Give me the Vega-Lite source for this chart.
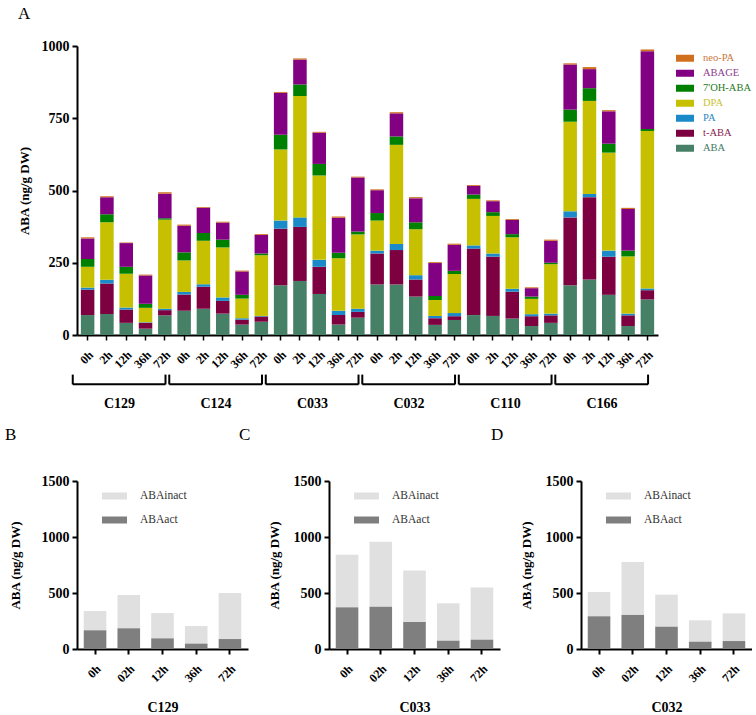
{
  "$schema": "https://vega.github.io/schema/vega-lite/v6.json",
  "background": "white",
  "padding": {"left": 5, "top": 5, "right": 0, "bottom": 0},
  "spacing": 14,
  "config": {
    "view": {"stroke": null},
    "font": "Liberation Serif",
    "axis": {
      "grid": false,
      "domainColor": "black",
      "domainWidth": 2,
      "tickColor": "black",
      "tickWidth": 2,
      "tickSize": 5,
      "labelFont": "Liberation Serif",
      "labelFontWeight": "bold",
      "labelColor": "black",
      "titleFont": "Liberation Serif",
      "titleFontWeight": "bold",
      "titleColor": "black"
    },
    "title": {"font": "Liberation Serif", "fontWeight": "normal", "fontSize": 17, "color": "black", "anchor": "start", "frame": "bounds"}
  },
  "datasets": {
    "A": [
      {"g": "C129", "t": "0h", "ABA": 69, "tABA": 88, "PA": 7, "DPA": 72, "OH": 27, "ABAGE": 71, "neoPA": 4},
      {"g": "C129", "t": "2h", "ABA": 73, "tABA": 105, "PA": 13, "DPA": 199, "OH": 28, "ABAGE": 59, "neoPA": 3},
      {"g": "C129", "t": "12h", "ABA": 42, "tABA": 46, "PA": 7, "DPA": 117, "OH": 24, "ABAGE": 82, "neoPA": 2},
      {"g": "C129", "t": "36h", "ABA": 22, "tABA": 20, "PA": 2, "DPA": 50, "OH": 14, "ABAGE": 98, "neoPA": 3},
      {"g": "C129", "t": "72h", "ABA": 68, "tABA": 18, "PA": 5, "DPA": 308, "OH": 5, "ABAGE": 85, "neoPA": 5},
      {"g": "C124", "t": "0h", "ABA": 84, "tABA": 56, "PA": 9, "DPA": 109, "OH": 28, "ABAGE": 92, "neoPA": 4},
      {"g": "C124", "t": "2h", "ABA": 91, "tABA": 76, "PA": 9, "DPA": 150, "OH": 27, "ABAGE": 87, "neoPA": 3},
      {"g": "C124", "t": "12h", "ABA": 74, "tABA": 44, "PA": 12, "DPA": 173, "OH": 27, "ABAGE": 59, "neoPA": 3},
      {"g": "C124", "t": "36h", "ABA": 36, "tABA": 17, "PA": 5, "DPA": 68, "OH": 13, "ABAGE": 81, "neoPA": 3},
      {"g": "C124", "t": "72h", "ABA": 46, "tABA": 18, "PA": 2, "DPA": 210, "OH": 6, "ABAGE": 64, "neoPA": 3},
      {"g": "C033", "t": "0h", "ABA": 172, "tABA": 196, "PA": 28, "DPA": 246, "OH": 51, "ABAGE": 145, "neoPA": 3},
      {"g": "C033", "t": "2h", "ABA": 187, "tABA": 187, "PA": 33, "DPA": 420, "OH": 40, "ABAGE": 86, "neoPA": 4},
      {"g": "C033", "t": "12h", "ABA": 142, "tABA": 94, "PA": 24, "DPA": 292, "OH": 40, "ABAGE": 108, "neoPA": 3},
      {"g": "C033", "t": "36h", "ABA": 36, "tABA": 33, "PA": 15, "DPA": 182, "OH": 19, "ABAGE": 121, "neoPA": 4},
      {"g": "C033", "t": "72h", "ABA": 60, "tABA": 20, "PA": 11, "DPA": 257, "OH": 10, "ABAGE": 187, "neoPA": 3},
      {"g": "C032", "t": "0h", "ABA": 175, "tABA": 107, "PA": 10, "DPA": 104, "OH": 26, "ABAGE": 79, "neoPA": 3},
      {"g": "C032", "t": "2h", "ABA": 175, "tABA": 119, "PA": 21, "DPA": 343, "OH": 29, "ABAGE": 80, "neoPA": 4},
      {"g": "C032", "t": "12h", "ABA": 133, "tABA": 59, "PA": 15, "DPA": 159, "OH": 24, "ABAGE": 83, "neoPA": 4},
      {"g": "C032", "t": "36h", "ABA": 35, "tABA": 23, "PA": 8, "DPA": 55, "OH": 14, "ABAGE": 114, "neoPA": 3},
      {"g": "C032", "t": "72h", "ABA": 52, "tABA": 13, "PA": 11, "DPA": 135, "OH": 11, "ABAGE": 90, "neoPA": 4},
      {"g": "C110", "t": "0h", "ABA": 69, "tABA": 230, "PA": 11, "DPA": 161, "OH": 15, "ABAGE": 30, "neoPA": 3},
      {"g": "C110", "t": "2h", "ABA": 66, "tABA": 205, "PA": 11, "DPA": 130, "OH": 13, "ABAGE": 38, "neoPA": 3},
      {"g": "C110", "t": "12h", "ABA": 57, "tABA": 93, "PA": 10, "DPA": 178, "OH": 11, "ABAGE": 49, "neoPA": 3},
      {"g": "C110", "t": "36h", "ABA": 31, "tABA": 34, "PA": 7, "DPA": 53, "OH": 8, "ABAGE": 29, "neoPA": 3},
      {"g": "C110", "t": "72h", "ABA": 42, "tABA": 26, "PA": 6, "DPA": 171, "OH": 5, "ABAGE": 76, "neoPA": 4},
      {"g": "C166", "t": "0h", "ABA": 172, "tABA": 235, "PA": 21, "DPA": 310, "OH": 42, "ABAGE": 156, "neoPA": 4},
      {"g": "C166", "t": "2h", "ABA": 192, "tABA": 285, "PA": 11, "DPA": 322, "OH": 44, "ABAGE": 66, "neoPA": 7},
      {"g": "C166", "t": "12h", "ABA": 139, "tABA": 132, "PA": 21, "DPA": 339, "OH": 31, "ABAGE": 112, "neoPA": 4},
      {"g": "C166", "t": "36h", "ABA": 31, "tABA": 37, "PA": 6, "DPA": 198, "OH": 20, "ABAGE": 144, "neoPA": 4},
      {"g": "C166", "t": "72h", "ABA": 123, "tABA": 32, "PA": 6, "DPA": 545, "OH": 7, "ABAGE": 269, "neoPA": 6}
    ],
    "groups": [
      {"g": "C129", "a": "C129 0h", "m": "C129 12h", "b": "C129 72h"},
      {"g": "C124", "a": "C124 0h", "m": "C124 12h", "b": "C124 72h"},
      {"g": "C033", "a": "C033 0h", "m": "C033 12h", "b": "C033 72h"},
      {"g": "C032", "a": "C032 0h", "m": "C032 12h", "b": "C032 72h"},
      {"g": "C110", "a": "C110 0h", "m": "C110 12h", "b": "C110 72h"},
      {"g": "C166", "a": "C166 0h", "m": "C166 12h", "b": "C166 72h"}
    ],
    "B": [
      {"t": "0h", "ABAact": 167, "ABAinact": 172},
      {"t": "02h", "ABAact": 185, "ABAinact": 297},
      {"t": "12h", "ABAact": 95, "ABAinact": 226},
      {"t": "36h", "ABAact": 48, "ABAinact": 157},
      {"t": "72h", "ABAact": 89, "ABAinact": 411}
    ],
    "C": [
      {"t": "0h", "ABAact": 372, "ABAinact": 470},
      {"t": "02h", "ABAact": 378, "ABAinact": 580},
      {"t": "12h", "ABAact": 241, "ABAinact": 461},
      {"t": "36h", "ABAact": 74, "ABAinact": 334},
      {"t": "72h", "ABAact": 83, "ABAinact": 465}
    ],
    "D": [
      {"t": "0h", "ABAact": 292, "ABAinact": 217},
      {"t": "02h", "ABAact": 304, "ABAinact": 473},
      {"t": "12h", "ABAact": 199, "ABAinact": 286},
      {"t": "36h", "ABAact": 65, "ABAinact": 191},
      {"t": "72h", "ABAact": 71, "ABAinact": 247}
    ]
  },
  "resolve": {"scale": {"x": "independent", "y": "independent", "color": "independent"}, "legend": {"color": "independent"}},
  "vconcat": [
    {
      "width": 581,
      "height": 289,
      "title": {"text": "A", "offset": 16},
      "layer": [
        {
          "data": {"name": "A"},
          "transform": [
            {"calculate": "datum.g + ' ' + datum.t", "as": "key"},
            {"fold": ["ABA", "tABA", "PA", "DPA", "OH", "ABAGE", "neoPA"], "as": ["comp", "v"]},
            {"calculate": "indexof(['ABA','tABA','PA','DPA','OH','ABAGE','neoPA'], datum.comp)", "as": "ord"}
          ],
          "mark": {"type": "bar"},
          "encoding": {
            "x": {
              "field": "key", "type": "nominal",
              "scale": {
                "domain": ["C129 0h","C129 2h","C129 12h","C129 36h","C129 72h","C124 0h","C124 2h","C124 12h","C124 36h","C124 72h","C033 0h","C033 2h","C033 12h","C033 36h","C033 72h","C032 0h","C032 2h","C032 12h","C032 36h","C032 72h","C110 0h","C110 2h","C110 12h","C110 36h","C110 72h","C166 0h","C166 2h","C166 12h","C166 36h","C166 72h"],
                "paddingInner": 0.3, "paddingOuter": 0.2
              },
              "axis": {"title": null, "labelExpr": "split(datum.label, ' ')[1]", "labelAngle": -45, "labelFontSize": 12, "labelPadding": 9, "tickWidth": 1.5}
            },
            "y": {
              "field": "v", "type": "quantitative", "stack": "zero",
              "scale": {"domain": [0, 1000]},
              "axis": {"values": [0, 250, 500, 750, 1000], "format": "d", "title": "ABA (ng/g DW)", "titleFontSize": 13, "labelFontSize": 14, "labelPadding": 3, "titlePadding": 10}
            },
            "color": {
              "field": "comp", "type": "nominal",
              "scale": {
                "domain": ["neoPA", "ABAGE", "OH", "DPA", "PA", "tABA", "ABA"],
                "range": ["#D0701F", "#820082", "#008000", "#C6C000", "#1A8AC9", "#7D0041", "#468066"]
              },
              "legend": {
                "title": null,
                "orient": "none",
                "legendX": 599,
                "legendY": 6,
                "padding": 0,
                "symbolType": "M-1,-0.4H1V0.4H-1Z",
                "symbolSize": 324,
                "symbolStrokeWidth": 0,
                "symbolOpacity": 1,
                "clipHeight": 12.5,
                "rowPadding": 2,
                "labelOffset": 9,
                "labelFont": "Liberation Serif",
                "labelFontSize": 10.5,
                "labelExpr": "datum.label == 'neoPA' ? 'neo-PA' : datum.label == 'OH' ? \"7'OH-ABA\" : datum.label == 'tABA' ? 't-ABA' : datum.label",
                "labelColor": {"expr": "datum.value == 'neoPA' ? '#C77A3C' : datum.value == 'ABAGE' ? '#8C3A8C' : datum.value == 'OH' ? '#1F7A1F' : datum.value == 'DPA' ? '#C8C232' : datum.value == 'PA' ? '#2A86C4' : datum.value == 'tABA' ? '#8A1A4E' : '#3F7A64'"}
              }
            },
            "order": {"field": "ord", "type": "quantitative"}
          }
        },
        {
          "data": {"name": "groups"},
          "mark": {"type": "rule", "color": "black", "strokeWidth": 2, "clip": false},
          "encoding": {
            "x": {"field": "a", "type": "nominal", "bandPosition": -0.6},
            "x2": {"field": "b", "bandPosition": 0.55},
            "y": {"datum": -170}
          }
        },
        {
          "data": {"name": "groups"},
          "mark": {"type": "rule", "color": "black", "strokeWidth": 2, "clip": false},
          "encoding": {
            "x": {"field": "a", "type": "nominal", "bandPosition": -0.6},
            "y": {"datum": -137},
            "y2": {"datum": -171}
          }
        },
        {
          "data": {"name": "groups"},
          "mark": {"type": "rule", "color": "black", "strokeWidth": 2, "clip": false},
          "encoding": {
            "x": {"field": "b", "type": "nominal", "bandPosition": 0.55},
            "y": {"datum": -137},
            "y2": {"datum": -171}
          }
        },
        {
          "data": {"name": "groups"},
          "mark": {"type": "text", "font": "Liberation Serif", "fontWeight": "bold", "fontSize": 14, "color": "black", "baseline": "middle", "align": "center", "clip": false},
          "encoding": {
            "x": {"field": "m", "type": "nominal", "bandPosition": 0},
            "y": {"datum": -239},
            "text": {"field": "g"}
          }
        }
      ]
    },
    {
      "spacing": 81,
      "bounds": "flush",
      "resolve": {"scale": {"x": "independent", "y": "independent", "color": "independent"}, "legend": {"color": "independent"}},
      "hconcat": [
        {
          "width": 171, "height": 168,
          "title": {"text": "B", "offset": 30, "dx": -4},
          "data": {"name": "B"},
          "transform": [{"fold": ["ABAinact", "ABAact"], "as": ["kind", "v"]}],
          "mark": "bar",
          "encoding": {
            "x": {"field": "t", "type": "nominal", "sort": null, "scale": {"paddingInner": 0.33, "paddingOuter": 0.2},
              "axis": {"title": "C129", "titleFontSize": 14, "titlePadding": 17, "labelAngle": -45, "labelFontSize": 12, "labelPadding": 9, "tickWidth": 2}},
            "y": {"field": "v", "type": "quantitative", "stack": "zero", "scale": {"domain": [0, 1500]},
              "axis": {"values": [0, 500, 1000, 1500], "format": "d", "title": "ABA (ng/g DW)", "titleFontSize": 13, "labelFontSize": 14, "labelPadding": 3, "titlePadding": 19}},
            "color": {"field": "kind", "type": "nominal", "scale": {"domain": ["ABAinact", "ABAact"], "range": ["#E0E0E0", "#7F7F7F"]},
              "legend": {"title": null, "orient": "none", "legendX": 25, "legendY": 8, "padding": 0, "symbolType": "M-1,-0.28H1V0.28H-1Z", "symbolSize": 625, "symbolStrokeWidth": 0, "symbolOpacity": 1, "clipHeight": 14, "rowPadding": 10, "labelOffset": 13, "labelFont": "Liberation Serif", "labelFontSize": 11.5, "labelColor": "#333333"}},
            "order": {"field": "kind", "sort": "ascending"}
          }
        },
        {
          "width": 171, "height": 168,
          "title": {"text": "C", "offset": 30, "dx": -29},
          "data": {"name": "C"},
          "transform": [{"fold": ["ABAinact", "ABAact"], "as": ["kind", "v"]}],
          "mark": "bar",
          "encoding": {
            "x": {"field": "t", "type": "nominal", "sort": null, "scale": {"paddingInner": 0.33, "paddingOuter": 0.2},
              "axis": {"title": "C033", "titleFontSize": 14, "titlePadding": 17, "labelAngle": -45, "labelFontSize": 12, "labelPadding": 9, "tickWidth": 2}},
            "y": {"field": "v", "type": "quantitative", "stack": "zero", "scale": {"domain": [0, 1500]},
              "axis": {"values": [0, 500, 1000, 1500], "format": "d", "title": "ABA (ng/g DW)", "titleFontSize": 13, "labelFontSize": 14, "labelPadding": 3, "titlePadding": 12}},
            "color": {"field": "kind", "type": "nominal", "scale": {"domain": ["ABAinact", "ABAact"], "range": ["#E0E0E0", "#7F7F7F"]},
              "legend": {"title": null, "orient": "none", "legendX": 25, "legendY": 8, "padding": 0, "symbolType": "M-1,-0.28H1V0.28H-1Z", "symbolSize": 625, "symbolStrokeWidth": 0, "symbolOpacity": 1, "clipHeight": 14, "rowPadding": 10, "labelOffset": 13, "labelFont": "Liberation Serif", "labelFontSize": 11.5, "labelColor": "#333333"}},
            "order": {"field": "kind", "sort": "ascending"}
          }
        },
        {
          "width": 171, "height": 168,
          "title": {"text": "D", "offset": 30, "dx": -29},
          "data": {"name": "D"},
          "transform": [{"fold": ["ABAinact", "ABAact"], "as": ["kind", "v"]}],
          "mark": "bar",
          "encoding": {
            "x": {"field": "t", "type": "nominal", "sort": null, "scale": {"paddingInner": 0.33, "paddingOuter": 0.2},
              "axis": {"title": "C032", "titleFontSize": 14, "titlePadding": 17, "labelAngle": -45, "labelFontSize": 12, "labelPadding": 9, "tickWidth": 2}},
            "y": {"field": "v", "type": "quantitative", "stack": "zero", "scale": {"domain": [0, 1500]},
              "axis": {"values": [0, 500, 1000, 1500], "format": "d", "title": "ABA (ng/g DW)", "titleFontSize": 13, "labelFontSize": 14, "labelPadding": 3, "titlePadding": 12}},
            "color": {"field": "kind", "type": "nominal", "scale": {"domain": ["ABAinact", "ABAact"], "range": ["#E0E0E0", "#7F7F7F"]},
              "legend": {"title": null, "orient": "none", "legendX": 25, "legendY": 8, "padding": 0, "symbolType": "M-1,-0.28H1V0.28H-1Z", "symbolSize": 625, "symbolStrokeWidth": 0, "symbolOpacity": 1, "clipHeight": 14, "rowPadding": 10, "labelOffset": 13, "labelFont": "Liberation Serif", "labelFontSize": 11.5, "labelColor": "#333333"}},
            "order": {"field": "kind", "sort": "ascending"}
          }
        }
      ]
    }
  ]
}
